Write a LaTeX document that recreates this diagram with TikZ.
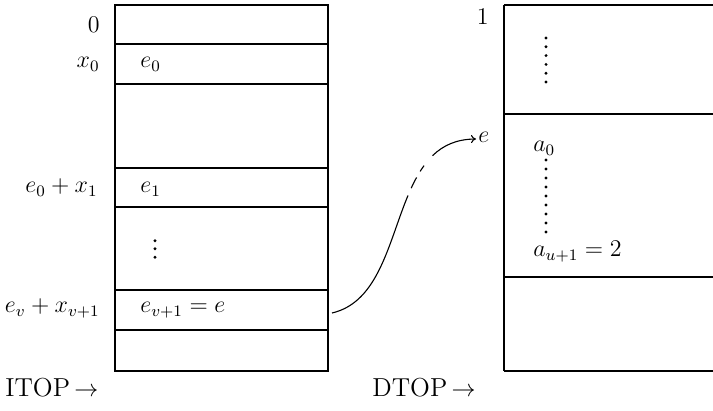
\documentclass[tikz,border=0pt]{standalone}
\usetikzlibrary{arrows.meta}
\begin{document}
\begin{tikzpicture}[x=0.5pt,y=-0.5pt,
  rule/.style={line width=0.55pt},
  lbl/.style={inner sep=0pt,font=\fontsize{12}{14}\selectfont},
  big/.style={inner sep=0pt,font=\fontsize{13}{15}\selectfont},
  dotm/.style={fill=black,radius=1.6}]
\useasboundingbox (0,0) rectangle (713,411);
% left stack
\draw[rule] (115,5) rectangle (328,371);
\foreach \y in {44,84,168,207,290,330}{\draw[rule] (115,\y) -- (328,\y);}
% right stack
\draw[rule] (504,5) -- (504,371);
\foreach \y in {5,114,277,371}{\draw[rule] (504,\y) -- (713,\y);}
% left labels
\node[lbl,anchor=base east] (l0) at (100,33) {$0$};
\node[lbl,anchor=base east] (lx0) at (100,68) {$x_0$};
\node[lbl,anchor=base west] (le0) at (140,68) {$e_0$};
\node[lbl,anchor=base east] (lx1) at (98,193) {$e_0+x_1$};
\node[lbl,anchor=base west] (le1) at (140,193) {$e_1$};
\node[lbl,anchor=base east] (lxv) at (100,313) {$e_v+x_{v+1}$};
\node[lbl,anchor=base west] (lev) at (140,313) {$e_{v+1}=e$};
\node[big,anchor=base west] (itop) at (5,397) {ITOP\,$\rightarrow$};
\node[big,anchor=base west] (dtop) at (372,397) {DTOP\,$\rightarrow$};
% right labels
\node[lbl,anchor=base east] (r1) at (489,25) {$1$};
\node[lbl,anchor=base west] (re) at (478,143) {$e$};
\node[lbl,anchor=base west] (ra0) at (533,152) {$a_0$};
\node[lbl,anchor=base west] (rau) at (533,257) {$a_{u+1}=2$};
% dots
\foreach \y in {240.7,248.8,257.3}{\fill (155,\y) circle[dotm];}
\foreach \i in {0,...,5}{\fill (546,38+8.8*\i) circle[dotm];}
\foreach \i in {0,...,8}{\fill (546,160+9*\i) circle[dotm];}
% connector
\coordinate (cs) at (332,313);
\coordinate (c1) at (408,195.5);
\coordinate (c2) at (432.5,155.7);
\coordinate (ce) at (476,139);
\draw[rule] (cs) .. controls (378.8,302.2) and (388.5,242.1) .. (c1);
\draw[rule,dash pattern={on 0pt off 4pt on 6pt off 3.5pt on 3.5pt off 20pt}] (c1) .. controls (414.5,179.95) and (422.1,165.9) .. (c2);
\draw[rule,-{To[length=2.5pt,width=4pt]}] (c2) .. controls (442.95,145.55) and (456.2,139.2) .. (ce);
\end{tikzpicture}
\end{document}
